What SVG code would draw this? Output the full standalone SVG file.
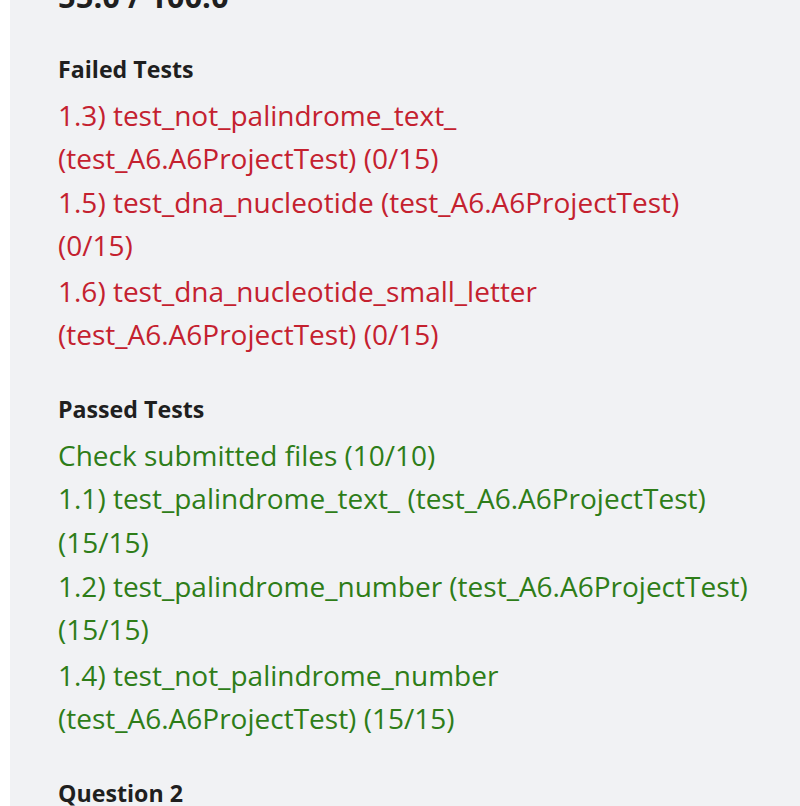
<svg xmlns="http://www.w3.org/2000/svg" width="800" height="806" viewBox="0 0 800 806">
<style>
text{font-family:"Open Sans","Noto Sans",sans-serif}
.h{font-size:23.2px;font-weight:bold;fill:#1f1f1f}
.r{font-size:28px;fill:#c4212f}
.g{font-size:28px;fill:#2e7d18}
</style>
<rect width="800" height="806" fill="#ffffff"/>
<rect x="10" y="0" width="790" height="806" fill="#f1f2f4"/>
<text x="58" y="8" style="font-size:31px;font-weight:bold;fill:#1f1f1f">55.0 / 100.0</text>
<g id="failed">
<text class="h" x="58" y="78">Failed Tests</text>
<text class="r" x="58" y="126">1.3) test_not_palindrome_text_</text>
<text class="r" x="58" y="169">(test_A6.A6ProjectTest) (0/15)</text>
<text class="r" x="58" y="213">1.5) test_dna_nucleotide (test_A6.A6ProjectTest)</text>
<text class="r" x="58" y="256">(0/15)</text>
<text class="r" x="58" y="302">1.6) test_dna_nucleotide_small_letter</text>
<text class="r" x="58" y="345">(test_A6.A6ProjectTest) (0/15)</text>
</g>
<g id="passed">
<text class="h" x="58" y="418">Passed Tests</text>
<text class="g" x="58" y="466">Check submitted files (10/10)</text>
<text class="g" x="58" y="509">1.1) test_palindrome_text_ (test_A6.A6ProjectTest)</text>
<text class="g" x="58" y="553">(15/15)</text>
<text class="g" x="58" y="597">1.2) test_palindrome_number (test_A6.A6ProjectTest)</text>
<text class="g" x="58" y="640">(15/15)</text>
<text class="g" x="58" y="686">1.4) test_not_palindrome_number</text>
<text class="g" x="58" y="729">(test_A6.A6ProjectTest) (15/15)</text>
</g>
<text class="h" x="58" y="802">Question 2</text>
</svg>
